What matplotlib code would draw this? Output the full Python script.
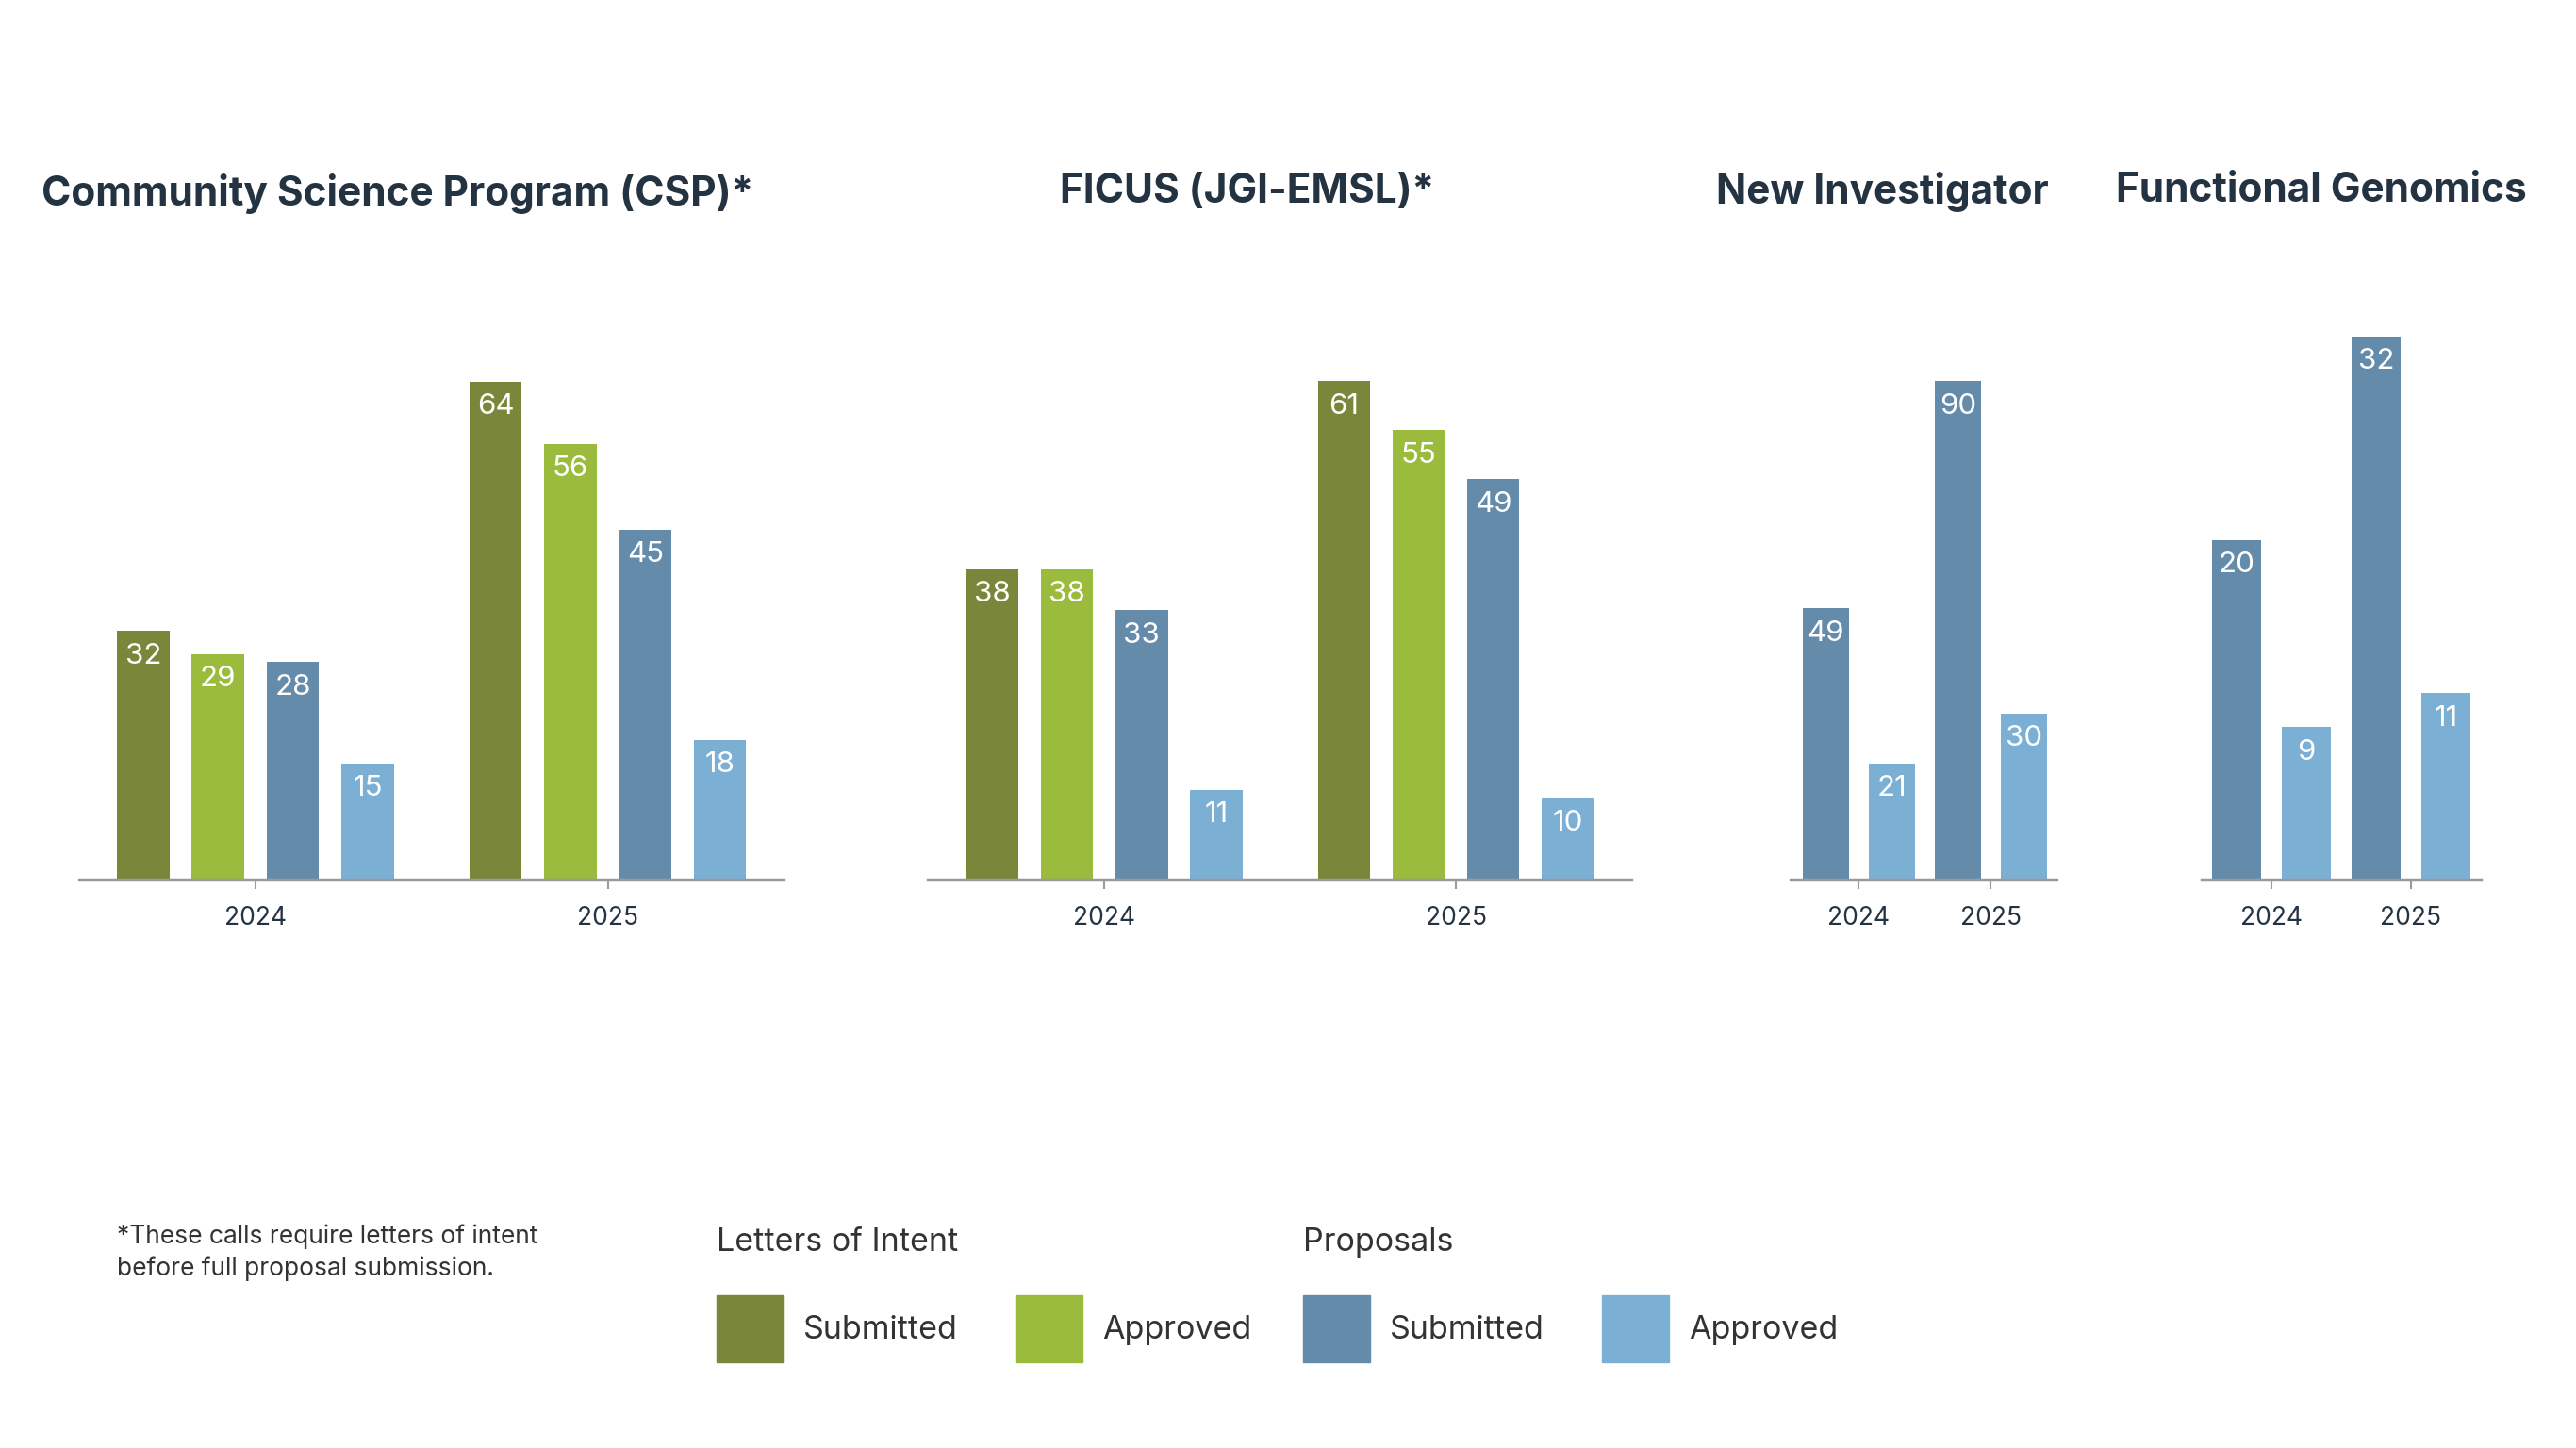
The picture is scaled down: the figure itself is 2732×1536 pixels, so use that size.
import matplotlib
matplotlib.use("Agg")
import matplotlib.pyplot as plt
from matplotlib.patches import Rectangle

plt.rcParams['font.family'] = ['Inter', 'DejaVu Sans']

# data
years = ['2024', '2025']
csp_loi_sub = [32, 64]
csp_loi_app = [29, 56]
csp_prop_sub = [28, 45]
csp_prop_app = [15, 18]

ficus_loi_sub = [38, 61]
ficus_loi_app = [38, 55]
ficus_prop_sub = [33, 49]
ficus_prop_app = [11, 10]

ni_prop_sub = [49, 90]
ni_prop_app = [21, 30]

fg_prop_sub = [20, 32]
fg_prop_app = [9, 11]

titles = ['Community Science Program (CSP)*', 'FICUS (JGI-EMSL)*',
          'New Investigator', 'Functional Genomics']

C_LOI_SUB = '#7a873a'
C_LOI_APP = '#9abb3c'
C_PROP_SUB = '#658bab'
C_PROP_APP = '#7bafd4'
NAVY = '#243342'
TXT = '#333333'

W, H = 1568.0, 882.0  # layout measured on the reference at this scale


def fx(px):
    return px / W


def fy(py):
    return 1 - py / H


fig = plt.figure(figsize=(27.32, 15.36), dpi=100)
fig.patch.set_facecolor('white')

ax_bottom, ax_top = 536, 150


def make_axes(left, right, xlim, ytop):
    ax = fig.add_axes([fx(left), fy(ax_bottom), fx(right - left), fy(ax_top) - fy(ax_bottom)])
    ax.set_xlim(*xlim)
    ax.set_ylim(0, ytop)
    for s in ['top', 'right', 'left']:
        ax.spines[s].set_visible(False)
    ax.spines['bottom'].set_color('#9a9a9a')
    ax.spines['bottom'].set_linewidth(2.5)
    ax.set_yticks([])
    ax.tick_params(axis='x', length=7, width=1.5, color='#9a9a9a',
                   labelsize=19, labelcolor=NAVY, pad=13)
    return ax


def label_bars(ax, bars):
    for b in bars:
        ax.annotate(str(int(b.get_height())), (b.get_x() + b.get_width() / 2, b.get_height()),
                    xytext=(0, -19), textcoords='offset points', ha='center', va='center',
                    color='white', fontsize=22.5)


# four-series panels
group_gap = 4.71
wide_panels = [
    (48, 477, [csp_loi_sub, csp_loi_app, csp_prop_sub, csp_prop_app], 81.4),
    (565, 993, [ficus_loi_sub, ficus_loi_app, ficus_prop_sub, ficus_prop_app], 77.5),
]
colors4 = [C_LOI_SUB, C_LOI_APP, C_PROP_SUB, C_PROP_APP]
for left, right, series, ytop in wide_panels:
    ax = make_axes(left, right, (-2.36, group_gap + 2.35), ytop)
    centers = [0, group_gap]
    for i, (vals, c) in enumerate(zip(series, colors4)):
        xs = [g + (i - 1.5) for g in centers]
        bars = ax.bar(xs, vals, width=0.7, color=c)
        label_bars(ax, bars)
    ax.set_xticks(centers)
    ax.set_xticklabels(years)

# two-series panels
narrow_panels = [
    (1090, 1252, [ni_prop_sub, ni_prop_app], 114.3, (-1.03, 3.0)),
    (1340, 1510, [fg_prop_sub, fg_prop_app], 37.3, (-1.0, 3.0)),
]
for left, right, series, ytop, xlim in narrow_panels:
    ax = make_axes(left, right, xlim, ytop)
    centers = [0, 2]
    for i, (vals, c) in enumerate(zip(series, [C_PROP_SUB, C_PROP_APP])):
        xs = [g + (i - 0.5) for g in centers]
        bars = ax.bar(xs, vals, width=0.7, color=c)
        label_bars(ax, bars)
    ax.set_xticks(centers)
    ax.set_xticklabels(years)

# titles
title_x = [242, 759, 1146, 1413]
title_y = [118, 117, 117, 116]
for t, x, y in zip(titles, title_x, title_y):
    fig.text(fx(x), fy(y), t, ha='center', va='center', fontsize=30.5,
             fontweight='bold', color=NAVY)

# footnote
fig.text(fx(71), fy(753), '*These calls require letters of intent',
         ha='left', va='center', fontsize=19, color=TXT)
fig.text(fx(71), fy(773), 'before full proposal submission.',
         ha='left', va='center', fontsize=19, color=TXT)

# legend
fig.text(fx(436), fy(757), 'Letters of Intent', ha='left', va='center', fontsize=24.5, color=TXT)
fig.text(fx(793), fy(757), 'Proposals', ha='left', va='center', fontsize=24.5, color=TXT)
legend_items = [(436, C_LOI_SUB, 'Submitted'), (618, C_LOI_APP, 'Approved'),
                (793, C_PROP_SUB, 'Submitted'), (975, C_PROP_APP, 'Approved')]
for x, c, lab in legend_items:
    fig.patches.append(Rectangle((fx(x), fy(830)), fx(41), fy(789) - fy(830),
                                 transform=fig.transFigure, color=c))
    fig.text(fx(x + 53), fy(810), lab, ha='left', va='center', fontsize=24.5, color=TXT)

fig.savefig('out.png', dpi=100, facecolor='white')
